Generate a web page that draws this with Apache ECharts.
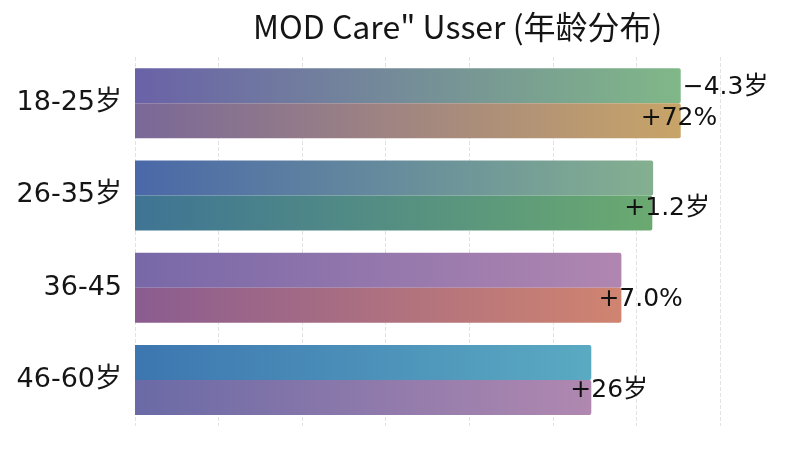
<!DOCTYPE html>
<html>
<head>
<meta charset="utf-8">
<title>MOD Care" Usser</title>
<script src="https://cdn.jsdelivr.net/npm/echarts@6/dist/echarts.min.js"></script>
<style>
  html, body { margin: 0; padding: 0; background: #fff; }
  #chart { width: 800px; height: 450px; }
</style>
</head>
<body>
<div id="chart"></div>
<script>
// age groups, top to bottom
var categories = ['18-25岁', '26-35岁', '36-45', '46-60岁'];
// bar lengths (upper half / lower half)
var upperValues = [65.3, 62.0, 58.2, 54.6];
var lowerValues = [65.3, 61.9, 58.2, 54.6];
// value labels
var upperLabels = ['−4.3岁', '', '', ''];
var lowerLabels = ['+72%', '+1.2岁', '+7.0%', '+26岁'];
// x axis
var xMax = 70;
var xStep = 10;

// gradient colours per bar [left, right]
var upperColors = [['#6a62a8', '#80b888'], ['#4a68a8', '#84b090'], ['#7868a8', '#b086b0'], ['#3d76b0', '#5aaac2']];
var lowerColors = [['#7a6898', '#c8a468'], ['#3f7494', '#6aaa70'], ['#8a5c90', '#d08470'], ['#6a6aa6', '#b088b0']];
var lowerOffsets = [[-40, -2], [-28, -4], [-23, -6], [-21, -7]];

var fontStack = "'DejaVu Sans', 'Noto Sans CJK SC', sans-serif";

function grad(c) {
  return new echarts.graphic.LinearGradient(0, 0, 1, 0, [
    { offset: 0, color: c[0] },
    { offset: 1, color: c[1] }
  ]);
}

var labelFont = { fontSize: 25, color: '#111', fontFamily: fontStack };

var upperData = upperValues.map(function (v, i) {
  return {
    value: v,
    itemStyle: { color: grad(upperColors[i]) },
    label: Object.assign({ show: !!upperLabels[i], position: 'right', distance: 2, offset: [0, 2],
      formatter: upperLabels[i] }, labelFont)
  };
});
var lowerData = lowerValues.map(function (v, i) {
  return {
    value: v,
    itemStyle: { color: grad(lowerColors[i]) },
    label: Object.assign({ show: !!lowerLabels[i], position: 'right', distance: 0, offset: lowerOffsets[i],
      formatter: lowerLabels[i] }, labelFont)
  };
});

var chart = echarts.init(document.getElementById('chart'));
chart.setOption({
  backgroundColor: '#fff',
  animation: false,
  title: {
    text: 'MOD Care" Usser (年龄分布)',
    left: 248,
    top: 6,
    textStyle: { fontSize: 32, fontWeight: 'normal', color: '#151515', fontFamily: 'Noto Sans CJK SC' }
  },
  grid: { left: 135, right: 80, top: 57, bottom: 24 },
  xAxis: {
    type: 'value',
    min: 0,
    max: xMax,
    interval: xStep,
    axisLabel: { show: false },
    axisLine: { show: false },
    axisTick: { show: false },
    splitLine: { show: true, lineStyle: { type: 'dashed', color: '#e2e2e2' } }
  },
  yAxis: {
    type: 'category',
    data: categories,
    inverse: true,
    axisLine: { show: false },
    axisTick: { show: false },
    axisLabel: { fontSize: 27, color: '#151515', margin: 13, fontFamily: fontStack }
  },
  series: [
    {
      name: 'upper',
      type: 'bar',
      barWidth: 35,
      barGap: 0,
      itemStyle: { borderRadius: [0, 2, 2, 0] },
      data: upperData
    },
    {
      name: 'lower',
      type: 'bar',
      barWidth: 35,
      barGap: 0,
      itemStyle: { borderRadius: [0, 2, 2, 0] },
      data: lowerData
    }
  ]
});
</script>
</body>
</html>
